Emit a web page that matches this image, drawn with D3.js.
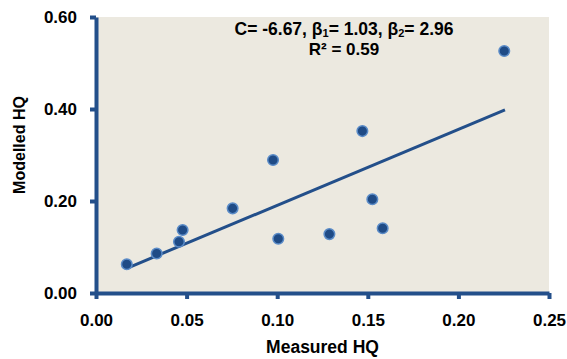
<!DOCTYPE html>
<html>
<head>
<meta charset="utf-8">
<script src="https://cdn.jsdelivr.net/npm/d3@7"></script>
<style>
  body { margin: 0; background: #fff; }
  svg text { font-family: Arial, "Liberation Sans", sans-serif; font-weight: bold; fill: #000; }
</style>
</head>
<body>
<div id="chart"></div>
<script>
// measured vs modelled HQ
var measuredHQ = [0.017, 0.0335, 0.0458, 0.0478, 0.0754, 0.0977, 0.1006, 0.1288, 0.147, 0.1525, 0.1582, 0.2253];
var modelledHQ = [0.0624, 0.086, 0.1115, 0.137, 0.184, 0.289, 0.118, 0.128, 0.352, 0.2037, 0.1406, 0.526];
var fitX = [0.017, 0.2257];
var fitY = [0.0537, 0.398];
var xTicks = [0, 0.05, 0.10, 0.15, 0.20, 0.25];
var yTicks = [0, 0.20, 0.40, 0.60];

var width = 567, height = 359;
var margin = { left: 96, right: 18, top: 17, bottom: 66 };
var axisColor = '#234f8a';

var svg = d3.select('#chart').append('svg')
    .attr('width', width)
    .attr('height', height);

var x = d3.scaleLinear().domain([0, 0.25]).range([margin.left, width - margin.right]);
var y = d3.scaleLinear().domain([0, 0.6]).range([height - margin.bottom, margin.top]);

svg.append('rect')
    .attr('x', x(0))
    .attr('y', y(0.6))
    .attr('width', x(0.25) - x(0))
    .attr('height', y(0) - y(0.6))
    .attr('fill', '#ece9e0');

var xAxis = d3.axisBottom(x).tickValues(xTicks).tickFormat(d3.format('.2f'))
    .tickSize(6).tickSizeOuter(0).tickPadding(15);
var yAxis = d3.axisLeft(y).tickValues(yTicks).tickFormat(d3.format('.2f'))
    .tickSize(6).tickSizeOuter(0).tickPadding(13);

var gx = svg.append('g')
    .attr('transform', 'translate(0,' + y(0) + ')')
    .call(xAxis);
var gy = svg.append('g')
    .attr('transform', 'translate(' + x(0) + ',0)')
    .call(yAxis);

[gx, gy].forEach(function (g) {
    g.select('.domain').attr('stroke', axisColor).attr('stroke-width', 4);
    g.selectAll('.tick line').attr('stroke', axisColor).attr('stroke-width', 4);
    g.selectAll('.tick text')
        .style('font-size', '17px')
        .style('font-family', 'Arial, "Liberation Sans", sans-serif')
        .style('font-weight', 'bold')
        .attr('fill', '#000');
});

// regression line
var line = d3.line()
    .x(function (d) { return x(d[0]); })
    .y(function (d) { return y(d[1]); });
svg.append('path')
    .datum(d3.zip(fitX, fitY))
    .attr('d', line)
    .attr('fill', 'none')
    .attr('stroke', axisColor)
    .attr('stroke-width', 3);

svg.append('g').selectAll('circle')
    .data(d3.zip(measuredHQ, modelledHQ))
    .enter().append('circle')
    .attr('cx', function (d) { return x(d[0]); })
    .attr('cy', function (d) { return y(d[1]); })
    .attr('r', 5.3)
    .attr('fill', '#1f4b86')
    .attr('stroke', '#5b8cc8')
    .attr('stroke-width', 1.5);

// annotation
var ann = svg.append('text')
    .attr('x', 344)
    .attr('y', 35)
    .attr('text-anchor', 'middle')
    .style('font-size', '17.5px');
ann.append('tspan').text('C= -6.67, \u03b2');
ann.append('tspan').attr('baseline-shift', '-20%').style('font-size', '11px').text('1');
ann.append('tspan').text('= 1.03, \u03b2');
ann.append('tspan').attr('baseline-shift', '-20%').style('font-size', '11px').text('2');
ann.append('tspan').text('= 2.96');

svg.append('text')
    .attr('x', 344)
    .attr('y', 54.5)
    .attr('text-anchor', 'middle')
    .style('font-size', '17px')
    .text('R\u00b2 = 0.59');

// axis titles
svg.append('text')
    .attr('x', (x(0) + x(0.25)) / 2)
    .attr('y', 353)
    .attr('text-anchor', 'middle')
    .style('font-size', '17.5px')
    .text('Measured HQ');

svg.append('text')
    .attr('transform', 'translate(25,145) rotate(-90)')
    .attr('text-anchor', 'middle')
    .style('font-size', '16px')
    .text('Modelled HQ');
</script>
</body>
</html>
